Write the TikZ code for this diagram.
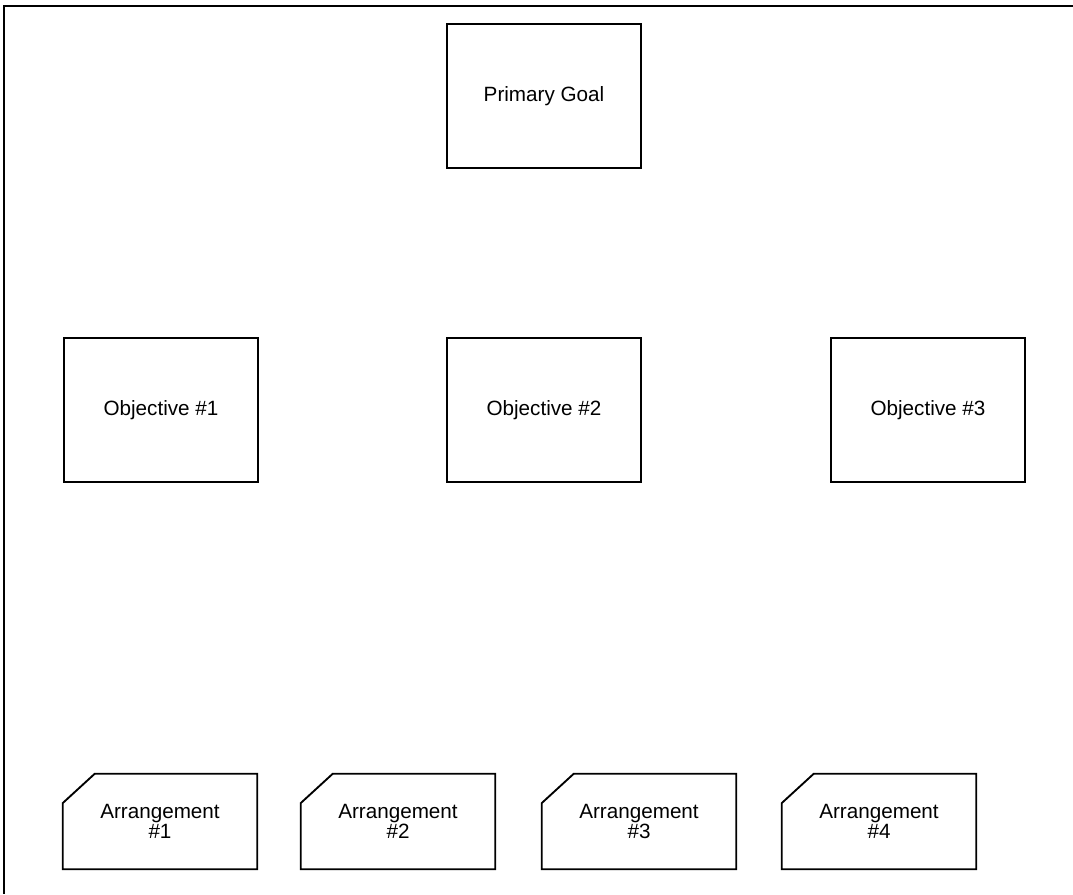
\documentclass[tikz,border=0pt]{standalone}
\usepackage{fontspec}
\setmainfont{Liberation Sans}
\begin{document}
\begin{tikzpicture}[x=0.75pt,y=-0.75pt,
  goalbox/.style={draw=black, line width=1.4pt, minimum width=145.5pt, minimum height=108pt, inner sep=0pt,
    font=\fontsize{15.5}{18}\selectfont},
  arrbox/.style={minimum width=145.5pt, minimum height=71.25pt, inner sep=0pt, align=center,
    font=\fontsize{15.5}{15}\selectfont},
  arrline/.style={draw=black, line width=1.4pt, line join=miter}
]
\useasboundingbox (0,0) rectangle (1073,894);
\coordinate (frameTR) at (1073,6);
\coordinate (frameTL) at (4,6);
\coordinate (frameBL) at (4,894);
\draw[line width=1.5pt] (frameTR) -- (frameTL) -- (frameBL);

\node[goalbox] (goal) at (544,96) {Primary Goal};
\node[goalbox] (obj1) at (161,410) {Objective \#1};
\node[goalbox] (obj2) at (544,410) {Objective \#2};
\node[goalbox] (obj3) at (928,410) {Objective \#3};

\foreach \i/\cx in {1/160, 2/398, 3/639, 4/879}{
  \node[arrbox] (arr\i) at (\cx,821.5) {Arrangement\\\#\i};
  \draw[arrline] ([xshift=24pt]arr\i.north west) -- (arr\i.north east) -- (arr\i.south east)
    -- (arr\i.south west) -- ([yshift=-22pt]arr\i.north west) -- cycle;
}
\end{tikzpicture}
\end{document}
